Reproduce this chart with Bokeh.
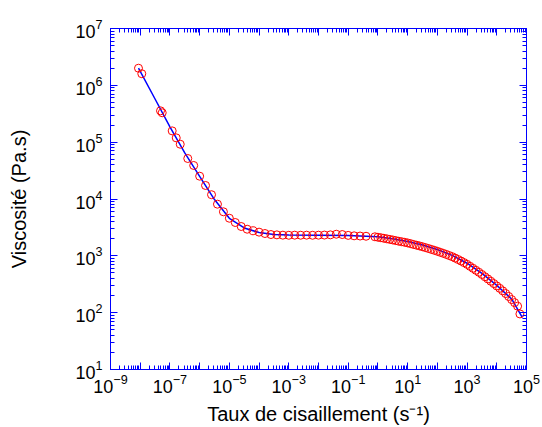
from bokeh.plotting import figure
from bokeh.models import Range1d, LogAxis, FixedTicker
from bokeh.embed import file_html
from bokeh.resources import INLINE

# ---- data ----
# oscillatory / creep data (sparse points)
shear_a = [8.75e-9, 1.13e-8, 4.82e-8, 5.5e-8, 1.19e-7, 1.63e-7, 2.22e-7,
           3.98e-7, 6.31e-7, 1.0e-6, 1.58e-6, 2.51e-6, 3.98e-6, 6.31e-6,
           1.0e-5, 1.58e-5, 2.51e-5, 3.98e-5, 6.31e-5, 1.0e-4, 1.58e-4,
           2.51e-4, 3.98e-4, 6.31e-4, 1.0e-3, 1.58e-3, 2.51e-3, 3.98e-3,
           6.31e-3, 1.0e-2, 1.58e-2, 2.51e-2, 3.98e-2, 6.31e-2, 0.1,
           0.158, 0.251, 0.398]
visc_a = [2.0e6, 1.6e6, 3.56e5, 3.29e5, 1.58e5, 1.19e5, 9.2e4,
          5.16e4, 3.89e4, 2.52e4, 1.73e4, 1.19e4, 8110, 5960,
          4590, 3860, 3280, 2940, 2760, 2610, 2470,
          2370, 2340, 2310, 2300, 2310, 2305, 2310,
          2300, 2310, 2320, 2340, 2400, 2370, 2290,
          2250, 2230, 2210]

# steady shear data (dense points)
shear_b = [0.794, 1.0, 1.26, 1.58, 2.0, 2.51, 3.16, 3.98, 5.01, 6.31,
           7.94, 10.0, 12.6, 15.8, 20.0, 25.1, 31.6, 39.8, 50.1, 63.1,
           79.4, 100, 126, 158, 200, 251, 316, 398, 501, 631,
           794, 1000, 1259, 1585, 1995, 2512, 3162, 3981, 5012, 6310,
           7943, 10000, 12589, 15849, 19953, 25119, 31623, 39811, 50119, 60000]
visc_b = [2163, 2123, 2080, 2037, 1991, 1945, 1901, 1854, 1807, 1770,
          1730, 1687, 1637, 1585, 1538, 1493, 1445, 1396, 1346, 1297,
          1250, 1202, 1153, 1107, 1059, 1012, 966, 912, 861, 809,
          759, 708, 653, 603, 556, 513, 470, 429, 392, 357,
          325, 295, 268, 242, 217, 193, 170, 150, 130, 95]

# model fit curve (blue line)
shear_fit = [8.75e-9, 3.16e-8, 1e-7, 3.16e-7, 1e-6, 3.16e-6, 1e-5, 3.16e-5,
             1e-4, 3.16e-4, 1e-3, 1e-2, 1e-1, 1.0, 3.16, 10, 31.6, 100,
             316, 1000, 3160, 1e4, 3.16e4, 7.2e4]
visc_fit = [2.0e6, 5.75e5, 1.86e5, 6.46e4, 2.51e4, 9770, 4570, 3090,
            2570, 2370, 2320, 2310, 2290, 2160, 2000, 1780, 1550, 1290,
            1020, 741, 490, 302, 174, 83]

x_exponents = [-9, -8, -7, -6, -5, -4, -3, -2, -1, 0, 1, 2, 3, 4, 5]
x_labelled = [-9, -7, -5, -3, -1, 1, 3, 5]
y_exponents = [1, 2, 3, 4, 5, 6, 7]

x_title = "Taux de cisaillement (s\u207b\u00b9)"
y_title = "Viscosit\u00e9 (Pa.s)"

BLUE = "#0000FF"
RED = "#FF0000"
FONT = "Liberation Sans"

x_major = [10.0 ** e for e in x_exponents]
x_minor = [m * 10.0 ** e for e in x_exponents[:-1] for m in range(2, 10)]
y_major = [10.0 ** e for e in y_exponents]
y_minor = [m * 10.0 ** e for e in y_exponents[:-1] for m in range(2, 10)]

p = figure(width=542, height=427, x_axis_type="log", y_axis_type="log",
           x_range=Range1d(1e-9, 1e5), y_range=Range1d(10, 1e7),
           output_backend="svg", toolbar_location=None,
           min_border_left=110, min_border_right=16,
           min_border_top=28, min_border_bottom=58)
p.grid.visible = False
p.outline_line_color = BLUE
p.background_fill_color = "white"
p.border_fill_color = "white"


def style_axis(ax, show_labels):
    ax.axis_line_color = BLUE
    ax.axis_line_width = 1
    ax.major_tick_line_color = BLUE
    ax.minor_tick_line_color = BLUE
    ax.major_tick_in = 7
    ax.major_tick_out = 0
    ax.minor_tick_in = 4
    ax.minor_tick_out = 0
    ax.major_label_text_font = FONT
    ax.major_label_text_color = "black"
    ax.axis_label_text_font = FONT
    ax.axis_label_text_font_style = "normal"
    ax.axis_label_text_color = "black"
    ax.axis_label_text_font_size = "20px"
    if show_labels:
        ax.major_label_text_font_size = "18px"
    else:
        ax.major_label_text_font_size = "1px"
        ax.major_label_text_alpha = 0
        ax.major_label_standoff = 0


xt = FixedTicker(ticks=x_major, minor_ticks=x_minor)
yt = FixedTicker(ticks=y_major, minor_ticks=y_minor)

xb = p.xaxis[0]
xb.ticker = xt
style_axis(xb, True)
xb.major_label_overrides = {10.0 ** e: " " for e in x_exponents if e not in x_labelled}
xb.major_label_standoff = 4
xb.axis_label = x_title
xb.axis_label_standoff = 6

yl = p.yaxis[0]
yl.ticker = yt
style_axis(yl, True)
yl.major_label_standoff = 8
yl.axis_label = y_title
yl.axis_label_standoff = 42

xa = LogAxis(ticker=FixedTicker(ticks=x_major, minor_ticks=x_minor))
style_axis(xa, False)
p.add_layout(xa, "above")
yr = LogAxis(ticker=FixedTicker(ticks=y_major, minor_ticks=y_minor))
style_axis(yr, False)
p.add_layout(yr, "right")

p.line(shear_fit, visc_fit, line_color=BLUE, line_width=1.5)
p.scatter(shear_a, visc_a, marker="circle", size=8, fill_color=None,
          line_color=RED, line_width=1)
p.scatter(shear_b, visc_b, marker="circle", size=8, fill_color=None,
          line_color=RED, line_width=1)

open("out.html", "w").write(file_html(p, INLINE))
